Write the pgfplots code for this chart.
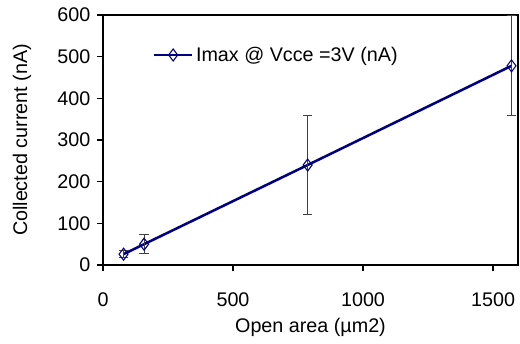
\documentclass[border=0pt]{standalone}
\usepackage{pgfplots}
\pgfplotsset{compat=1.18}
\usepackage{fontspec}
\setmainfont{Liberation Sans}
\definecolor{navyb}{RGB}{0,0,128}
\begin{document}
\begin{tikzpicture}
\begin{axis}[
  scale only axis,
  width=311.25pt, height=187.5pt,
  xmin=0, xmax=1596, ymin=0, ymax=600,
  xtick={0,500,1000,1500}, ytick={0,100,200,300,400,500,600},
  tick pos=left, tick align=outside,
  major tick length=4.5pt,
  axis line style={line width=1.6pt},
  tick style={line width=1.2pt, black},
  /pgf/number format/assume math mode=true,
  /pgf/number format/set thousands separator={},
  ticklabel style={font=\fontsize{14.8}{17}\selectfont},
  xticklabel style={yshift=-13pt},
  yticklabel style={xshift=-1.5pt},
  label style={font=\fontsize{14.8}{17}\selectfont},
  xlabel={Open area (µm2)},
  ylabel={Collected current (nA)},
  xlabel style={at={(axis description cs:0.5,-0.248)}, anchor=center},
  ylabel style={at={(axis description cs:-0.195,0.5)}, anchor=center},
  legend style={draw=none, fill=none, at={(0.11,0.84)}, anchor=west, font=\fontsize{14.8}{17}\selectfont},
  legend cell align=left,
  legend image code/.code={\draw[mark repeat=2,mark phase=2] plot coordinates {(0cm,0cm) (0.5cm,0cm) (1cm,0cm)};},
]
\addplot[color=navyb, line width=1.9pt, mark=diamond, mark size=4.5pt,
  mark options={fill=white, line width=0.8pt, solid},
  error bars/.cd, y dir=both, y explicit,
  error bar style={line width=0.7pt, color=black!75},
  error mark options={rotate=90, mark size=3.5pt, line width=0.7pt, color=black!75}]
  coordinates {
  (79,26) +- (0,8)
  (158,50) +- (0,23)
  (787,240) +- (0,118)
  (1571,478) +- (0,120)
  };
\addlegendentry{Imax @ Vcce =3V (nA)}
\end{axis}
\pgfresetboundingbox
\useasboundingbox ([shift={(-77.25pt,-58.5pt)}]current axis.south west) rectangle ([shift={(1.5pt,11.25pt)}]current axis.north east);
\end{tikzpicture}
\end{document}
